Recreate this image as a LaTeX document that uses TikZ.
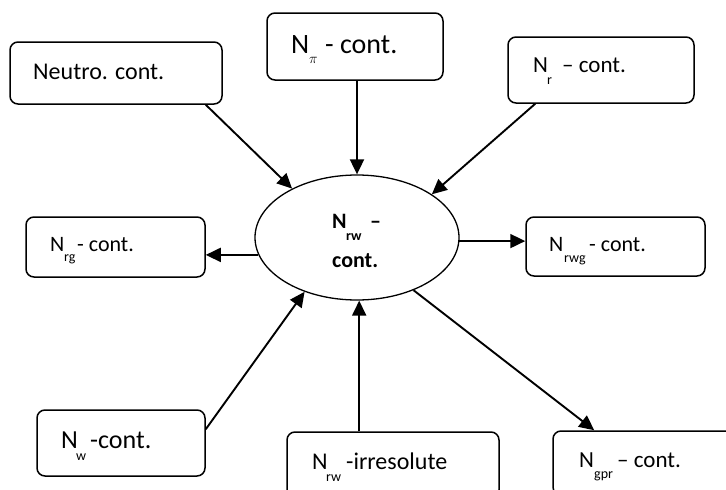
\documentclass[tikz,border=0pt]{standalone}
\usepackage{fontspec}
\setmainfont{Carlito}
\usetikzlibrary{shapes.geometric,arrows.meta,calc}
\newcommand\mylbl[6]{\fontsize{#1}{#1}\selectfont\makebox[#3pt][l]{N}\makebox[\dimexpr#5pt-#3pt\relax][l]{\raisebox{-#4pt}{\fontsize{14}{14}\selectfont #2}}#6}
\tikzset{
  box/.style={draw, line width=1.5pt, rounded corners=8pt, rectangle, inner sep=0pt},
  arr/.style={line width=1.9pt, -{Triangle[length=15pt,width=14pt]}},
  lbl/.style={anchor=base west, inner sep=0pt, text=black},
}
\begin{document}
\begin{tikzpicture}[x=1pt,y=-1pt]
\useasboundingbox (0,0) rectangle (726,490);
\fill[white] (0,0) rectangle (726,490);
\clip (0,0) rectangle (726,490);
% boxes
\node[box, minimum width=212pt, minimum height=62pt] (neutro) at (116,73) {};
\node[box, minimum width=176pt, minimum height=67pt] (pi) at (355,46.5) {};
\node[box, minimum width=186pt, minimum height=66pt] (nr) at (601,70) {};
\node[box, minimum width=179pt, minimum height=60pt] (rg) at (115.5,247) {};
\node[box, minimum width=179pt, minimum height=59pt] (rwg) at (615.5,246.5) {};
\node[box, minimum width=168pt, minimum height=66pt] (nw) at (121,443) {};
\node[box, minimum width=212pt, minimum height=66pt] (irr) at (393,465) {};
\node[box, minimum width=192pt, minimum height=64pt] (gpr) at (649,463) {};
% ellipse
\node[draw, ellipse, line width=1.3pt, minimum width=204pt, minimum height=125pt, inner sep=0pt] (c) at (357,237.5) {};
% texts
\node[lbl] (tneutro) at (33,79) {\fontsize{24}{24}\selectfont Neutro. cont.};
\node[lbl] (tpi) at (291,53) {\mylbl{28}{$\pi$}{18}{10}{34}{- cont.}};
\node[lbl] (tnr) at (533,72) {\mylbl{23}{r}{14}{12}{29}{– cont.}};
\node[lbl] (trg) at (50,251) {\mylbl{22}{rg}{14}{10}{27}{- cont.}};
\node[lbl] (trwg) at (549,251) {\mylbl{22}{rwg}{15}{11}{40}{- cont.}};
\node[lbl] (tnw) at (61,448) {\mylbl{26}{w}{15}{12}{29}{-cont.}};
\node[lbl] (tirr) at (312,469) {\mylbl{24}{rw}{14}{12}{34}{-irresolute}};
\node[lbl] (tgpr) at (579,467) {\mylbl{23}{gpr}{15}{11}{38}{– cont.}};
\node[lbl] (tc1) at (332,228) {\bfseries\fontsize{22}{22}\selectfont\makebox[14pt][l]{N}\makebox[24pt][l]{\raisebox{-12pt}{\fontsize{14}{14}\selectfont rw}}–};
\node[lbl] (tc2) at (332,267) {\bfseries\fontsize{22}{22}\selectfont cont.};
% arrows
\draw[arr] ($(neutro.south east)+(-17,0)$) -- (c.143);
\draw[arr] (c.north |- pi.south) -- (c.north);
\draw[arr] ($(nr.south west)+(28,0)$) -- (c.30);
\draw[arr] (c.190) -- (c.190 -| rg.east);
\draw[arr] (c.-2.5) -- (c.-2.5 -| rwg.west);
\draw[arr] ($(nw.north east)+(0,20)$) -- (c.226);
\draw[arr] (c.272 |- irr.north) -- (c.272);
\draw[arr] (c.-43) -- ($(gpr.north west)+(42,0)$);
\end{tikzpicture}
\end{document}
